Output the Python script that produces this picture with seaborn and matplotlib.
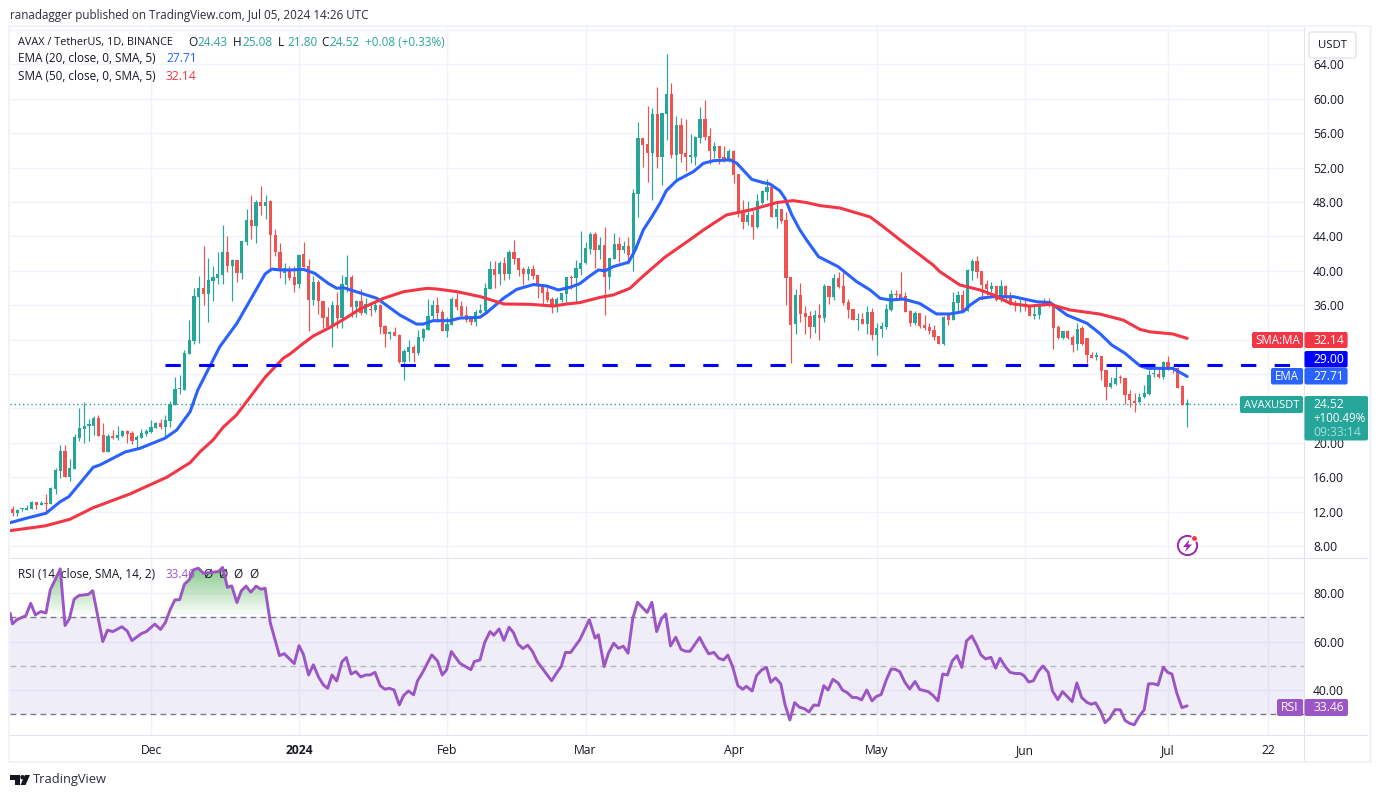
import numpy as np
import pandas as pd
import matplotlib
matplotlib.use("Agg")
import matplotlib.pyplot as plt
import seaborn as sns
from matplotlib.patches import Rectangle, FancyBboxPatch, Circle, Polygon
from matplotlib.path import Path
from matplotlib.transforms import Affine2D

# ---------- data ----------
first_day = -29  # days relative to 1 Dec 2023 (first candle: 2 Nov 2023)
open_ = [12.30,11.83,12.25,12.22,12.34,13.07,12.8,12.97,12.9,14.66,
16.76,19.04,16.02,16.95,20.55,21.6,22.0,21.95,22.88,20.9,
18.97,20.79,20.55,20.79,21.37,21.14,20.3,20.55,21.06,21.25,
21.72,22.3,21.83,22.53,24.4,26.2,26.14,30.32,31.83,36.95,
38.0,37.3,38.8,39.16,39.5,42.2,40.5,41.2,39.7,43.4,
45.9,45.2,48.0,47.5,48.1,44.2,42.2,39.8,40.1,39.3,
38.5,41.9,40.55,36.6,38.7,36.5,34.6,33.46,36.0,34.5,
38.35,39.28,35.8,36.5,35.1,35.55,35.4,36.0,33.6,32.65,
32.88,32.53,29.4,30.56,31.14,30.44,32.2,33.1,34.74,36.0,
35.2,33.0,33.7,36.7,35.9,34.86,34.6,34.04,35.1,35.3,
37.9,40.2,39.6,40.9,39.6,42.2,41.5,40.2,39.6,40.2,
39.5,38.46,37.5,36.7,35.8,36.6,37.3,39.28,39.16,40.2,
40.87,42.54,44.28,42.4,43.0,39.28,41.37,43.1,42.4,42.9,
41.84,48.93,55.44,54.75,53.7,58.24,53.2,58.24,60.56,53.47,
56.96,53.7,53.28,53.2,55.44,57.65,55.68,53.93,54.5,53.2,
52.77,53.93,51.26,46.84,45.68,46.5,45.1,47.88,49.16,49.75,
46.26,47.2,45.9,39.28,33.8,37.19,35.1,34.75,33.47,34.86,
34.5,38.23,36.95,39.16,38.23,36.37,35.56,34.28,34.4,33.8,
35.2,32.53,33.23,33.46,35.44,37.3,37.3,37.07,35.3,33.93,
35.09,33.7,33.46,33.1,32.4,31.5,34.86,34.28,36.25,37.19,
35.33,39.98,41.14,39.98,38.46,37.88,38.23,36.6,38.23,36.95,
36.25,35.9,35.95,35.9,34.74,34.86,35.9,36.49,36.0,33.46,
32.2,33.0,32.3,31.5,33.3,32.14,30.2,30.0,30.1,28.46,
26.44,26.83,27.57,27.5,25.63,24.7,24.74,25.36,25.67,27.95,
28.0,27.6,29.43,28.85,28.65,26.6,24.43]
close = [11.80,12.18,12.35,12.42,13.11,12.77,13.0,12.9,14.74,16.83,
19.04,16.02,17.07,20.67,21.72,21.95,22.07,22.88,20.79,18.97,
20.79,20.55,20.9,21.37,21.06,20.2,20.67,21.14,21.37,21.83,
22.3,21.83,22.65,24.5,26.25,26.25,30.44,31.95,37.07,38.0,
37.3,38.93,39.28,39.6,42.2,40.5,41.2,39.7,43.47,45.9,
45.2,48.0,47.5,48.0,44.2,42.2,40.2,40.3,39.2,38.38,
41.84,40.4,36.6,38.7,36.5,34.5,33.46,36.0,34.5,38.46,
39.28,35.8,36.5,35.1,36.1,35.47,36.0,33.46,32.65,32.88,
32.4,29.4,30.67,31.14,30.44,32.3,33.23,34.74,36.0,35.1,
33.0,33.8,36.7,35.8,34.74,34.3,34.04,35.2,35.44,38.0,
40.2,39.5,40.9,39.6,42.2,41.37,40.1,39.6,40.2,39.4,
38.46,37.4,36.6,35.8,36.7,37.4,39.28,39.16,40.3,40.9,
42.65,44.28,42.4,43.0,39.28,41.5,43.1,42.4,42.9,41.84,
49.05,55.44,54.63,53.7,58.24,53.2,58.35,60.56,53.47,56.96,
53.6,53.2,53.36,55.56,57.65,55.56,53.93,54.5,53.1,52.77,
53.93,51.14,46.84,45.68,46.5,45.1,48.12,49.28,49.75,46.26,
47.2,45.8,39.16,33.7,37.19,35.0,34.63,33.47,34.86,34.5,
38.23,36.95,39.16,38.1,36.25,35.44,34.28,34.4,33.8,35.2,
32.53,33.35,33.58,35.56,37.3,37.2,36.8,35.2,33.93,35.09,
33.58,33.35,33.0,32.3,31.5,34.63,34.28,36.37,37.19,35.33,
40.09,41.14,39.86,38.35,37.88,38.23,36.6,38.23,36.84,36.14,
35.9,35.98,35.9,34.74,34.98,36.02,36.49,35.95,33.35,32.2,
33.0,32.2,31.37,33.23,31.44,30.2,29.82,30.2,28.4,26.44,
26.9,27.5,27.5,25.55,24.97,24.66,25.36,25.75,27.88,28.03,
27.6,29.43,28.85,28.65,26.4,24.35,24.52]
high = [12.65,12.3,12.45,12.77,13.2,13.1,13.2,14.05,14.82,17.07,
19.74,19.74,18.1,21.06,24.04,24.7,22.76,23.1,23.2,22.3,
21.0,21.5,21.95,21.5,21.5,21.37,20.9,21.6,21.6,22.65,
22.4,22.76,23.23,24.86,27.65,27.88,30.79,34.28,38.0,39.4,
42.9,41.5,40.5,42.2,45.3,44.05,41.4,41.2,43.5,47.2,
48.8,48.2,49.86,48.8,48.2,44.86,43.27,40.9,40.5,40.55,
41.9,43.35,41.33,39.4,38.93,36.5,35.75,36.5,37.5,39.5,
41.84,39.5,36.6,37.9,36.8,36.37,36.5,36.1,33.7,33.0,
33.46,32.65,30.9,31.95,31.37,33.1,33.35,36.7,36.6,36.95,
35.4,34.6,36.95,37.4,36.5,35.9,34.6,35.4,36.1,38.6,
41.1,41.1,41.1,41.6,42.4,43.58,41.5,40.4,40.55,40.67,
39.5,38.46,38.2,36.95,36.95,37.4,39.28,39.5,41.25,44.6,
43.35,44.5,44.5,43.9,45.1,41.5,44.4,43.9,43.5,43.9,
49.5,57.3,55.44,59.17,58.93,61.4,58.35,65.2,61.84,58.0,
57.77,57.65,55.9,55.68,59.05,59.86,56.6,55.0,54.5,54.5,
54.16,54.05,51.26,48.24,48.12,47.0,48.93,49.4,50.68,50.1,
48.0,47.2,46.84,39.28,37.88,38.6,35.9,35.33,35.44,36.14,
38.46,38.23,39.63,39.86,39.86,36.7,35.56,35.1,35.1,35.9,
35.67,33.93,34.05,36.14,37.77,37.77,39.86,37.53,35.44,35.33,
35.09,34.86,33.93,33.7,32.4,34.74,34.86,37.53,37.65,37.77,
40.2,41.37,41.72,39.98,38.93,38.7,38.23,38.93,38.35,37.53,
36.6,36.68,36.6,36.0,36.14,36.25,36.84,36.84,36.25,33.7,
33.0,33.12,32.53,33.93,33.58,32.14,30.6,30.5,30.1,28.46,
27.6,28.93,27.88,27.5,26.1,25.75,25.75,26.7,28.46,29.04,
28.65,29.5,30.1,28.96,28.85,26.7,25.08]
low = [11.48,11.5,12.03,12.2,12.3,12.33,12.76,12.0,12.85,14.04,
15.94,16.02,15.6,16.95,20.24,20.0,20.2,20.9,20.79,18.97,
18.97,20.44,20.3,20.67,19.97,19.86,19.5,20.55,20.79,21.14,
21.72,21.6,20.6,21.83,24.4,25.67,26.14,30.32,31.5,31.6,
36.02,34.08,36.5,38.46,38.5,39.9,36.5,38.7,39.1,43.0,
43.7,43.27,46.5,46.0,40.2,41.7,39.2,38.46,38.9,37.53,
38.04,40.4,33.0,36.0,34.94,33.3,33.2,31.14,33.4,33.35,
37.57,34.6,34.6,34.9,35.0,34.8,35.2,32.65,31.14,32.07,
32.4,29.28,27.3,29.5,29.4,30.2,31.84,33.1,34.3,34.04,
33.0,32.3,33.7,35.4,34.7,34.04,33.7,33.6,35.1,35.2,
37.9,38.0,38.35,38.93,39.0,40.8,39.4,38.35,38.93,39.05,
36.8,35.9,36.37,35.1,35.2,36.37,36.1,37.9,36.25,39.5,
40.8,41.95,40.3,41.37,34.9,37.88,41.37,41.0,42.07,40.8,
40.0,46.26,52.07,50.3,48.24,52.0,50.0,55.2,53.1,50.44,
52.65,51.6,52.54,52.3,54.86,55.2,52.42,53.1,52.42,52.65,
52.65,50.2,46.26,44.86,45.3,43.7,45.0,47.77,48.24,46.26,
45.0,45.56,36.0,29.28,32.65,34.05,32.65,32.2,32.77,31.96,
34.04,36.14,36.6,38.0,36.0,34.5,34.28,33.1,33.8,32.65,
31.95,30.2,32.3,33.23,35.33,36.6,36.6,35.2,33.58,33.7,
33.35,33.1,32.65,31.95,31.5,31.37,33.7,34.28,35.05,35.33,
35.33,38.93,39.16,36.6,37.19,37.53,36.5,36.37,36.76,36.0,
35.33,35.2,35.3,34.74,34.4,34.4,35.9,35.83,30.9,32.07,
32.07,32.07,30.56,30.8,31.37,29.3,29.82,29.62,27.3,24.97,
26.37,26.7,27.0,24.5,24.2,23.6,24.6,25.24,25.55,27.6,
27.5,27.38,28.46,28.15,26.33,24.35,21.8]

ema_days = [-29.5,-25.3,-22,-19,-17.2,-12.1,-10.7,-5.4,-2.3,2.9,5.4,8.2,9.8,14.4,18,23.9,25.3,27,29.1,31.9,34.3,37.1,38.9,40.3,47.3,52.1,55.6,57,59.1,62.6,64.7,68.9,70.3,73.8,76.6,80.1,82.9,85.3,87.7,89.8,91.9,93.7,95.1,96.8,100,101.4,103.1,104.9,106.6,107.9,110.1,113.6,115.7,117.8,121.3,122.7,125.8,128.2,129.6,131.7,132.8,134.2,135.9,137.3,139.8,143.9,147.8,150.6,152.7,154.8,157.5,161,164.5,167.3,170.1,171.5,173.6,176.4,180.6,185.5,188.3,191.8,196,198.7,201.2,204,207.1,208.8,214,217]
ema_vals = [10.71,11.34,11.8,13.15,13.73,17.15,17.42,18.93,19.36,20.52,21.49,23.62,26.14,31.17,33.9,39.63,40.2,40.1,40.09,40.17,39.7,38.54,37.96,38.04,36.8,34.86,33.8,33.8,34.2,34.2,34.5,34.6,35.13,36.8,37.84,38.4,38.23,37.77,38.07,38.5,39.4,40.1,40.0,40.48,40.99,42.4,44.75,46.3,47.85,49.3,50.5,51.53,52.5,52.8,52.9,52.5,50.64,50.25,50.1,49.3,48.4,46.5,44.75,43.58,41.64,40.48,38.73,37.77,36.8,36.6,36.72,36.2,34.98,34.98,35.25,36.0,36.8,36.99,36.99,36.4,36.3,34.86,33.9,32.72,31.37,30.4,28.96,28.65,28.65,27.71]
sma_days = [-29.5,-22.2,-17,-12.1,-4.4,3.3,8.2,10.3,13,15.1,17.9,23.9,27.7,29.1,31.9,34,37.5,40.7,43.8,48.7,52.9,57.8,59.9,64.1,69,73.9,79.4,84.3,87.1,89.8,94,96.8,100.3,103.1,107.6,113.6,115.7,120.5,126.1,131,134.5,137.3,140.1,144.3,150.6,153.7,156.9,163.8,165.2,169.4,173.6,176.4,180,184,188.3,192.5,198.7,203.6,207.1,209.2,214,217]
sma_vals = [9.78,10.33,11.1,12.45,14.05,15.99,17.69,18.97,20.33,21.8,23.23,27.62,29.83,30.32,31.56,32.42,33.42,34.47,35.56,36.8,37.57,37.96,37.88,37.57,36.99,36.14,36.1,35.9,36.14,36.3,36.9,37.19,37.96,39.4,41.57,43.9,44.75,46.49,47.15,47.93,48.16,47.93,47.58,47.3,46.26,44.98,43.58,40.67,39.9,38.35,37.77,37.2,36.2,35.9,36.1,35.44,34.97,34.27,33.19,32.9,32.65,32.14]
rsi_days = [-29.5,-29,-28.1,-26.2,-25.2,-24.2,-23.1,-22,-21.1,-19,-18,-17.1,-16.1,-15.1,-13.1,-12.2,-11,-10.1,-9.1,-8,-6.1,-5,-4,-2,-1,0.8,2,3,4,5,6,7,8,8.9,9.9,11,14.1,15,16,16.9,18,18.9,19.9,20.9,22,23,23.9,25,26.9,27.9,30,31,31.9,33,34,35.1,36.1,37,37.9,38.9,40,40.9,41.9,42.9,43.9,45,45.9,46.9,48,49,49.9,50.9,52,52.9,53.9,55,55.8,56.9,58.8,60,61,61.9,62.9,64.7,67,67.7,68.9,69.9,71,71.8,72.9,73.9,75,75.9,76.9,77.9,78.9,79.9,80.9,83.9,84.9,85.9,86.8,87.9,88.9,89.8,91.8,93,93.7,94.9,95.8,96.9,97.9,98.9,99.9,100.9,101.9,103.9,104.9,105.9,106.9,107.8,108.8,109.9,111,111.9,112.9,114.9,115.9,116.8,117.9,118.9,119.9,120.8,121.8,122.9,123.9,124.7,125.9,126.8,127.9,128.9,129.8,130.8,131.9,132.8,133.8,134.8,135.8,136.8,137.8,138.8,139.8,140.9,141.8,142.8,143.9,144.8,145.8,146.9,147.8,148.8,149.9,151,151.9,152.9,154,155,155.8,156.8,157.9,158.9,160,161,162.8,163.8,164.8,165.8,166.8,167.8,168.8,169.8,170.8,171.9,172.9,173.8,174.8,175.9,176.9,177.8,178.9,179.9,181,182,182.8,183.8,184.8,185.8,186.8,187.9,188.8,189.9,190.9,191.9,192.9,193.9,194.9,196,196.9,197.8,198.9,199.8,200.8,201.9,203,204,204.9,205.9,206.9,208,208.9,209.9,210.9,212,212.9,213.8,214.8,215.9,217]
rsi_vals = [71.7,67.3,69,70.7,75.8,71,72.4,71.8,81.3,90,66.6,69.4,77.5,79,79.5,81,69,60,64.7,64.1,66.1,64.4,60.4,63.3,64.1,67.2,65,67.8,73.1,77.2,77.3,83.7,85.5,89.6,90.3,88.2,88.9,90.6,82.4,83,76.1,80.9,82.9,80.4,82.9,81.6,82,67.6,54.2,55,50.9,58.3,54.8,46.2,50.4,45.3,42.1,40.7,46.2,43.7,51.7,53.4,46.6,47.6,45.4,46.2,46.2,47.3,41.8,40.3,40.7,40,33.8,37.7,39.6,38,43.7,47.3,54.5,52,46.2,48.3,55.9,51,48.4,51.7,52.4,59.7,64.1,62.6,65.2,60.5,65.9,63.7,58.9,57.1,58.5,55.9,51.7,43.8,46.9,49.7,55.5,55.5,58.3,60.7,69,61.4,62.8,49.7,55.2,59.3,57.2,58.1,55.2,69.6,76.2,72,76.2,64.1,69.4,71.4,58.2,61.8,56.8,56,56,61.7,57.9,54.9,55.5,53.1,52.4,54.4,49.7,41.8,40.3,41.5,39.6,45.9,48.3,49.3,43.2,45,42.5,33.8,27.6,34.8,32.9,32.3,30.9,33.8,33.6,41.8,40,44.4,42.9,40,38.9,36.9,36.9,35.9,40,35.5,37.3,38.1,44.2,48.6,48.6,47.6,43.1,40.4,43.5,40.2,39.3,37.7,35.5,46.6,46.2,52,54.2,49.3,60.3,62.3,58.6,54.5,52.8,53.5,49,53.1,49.7,47.3,46.8,46.8,46,43.3,43.8,47.6,49.9,47.3,39.6,36,39.3,37.3,35.2,42.9,36.9,34.9,34.1,34.7,31.1,26.5,28.3,31.9,31.8,27.4,26.3,25.6,29,31.8,42.5,42.6,42,49.4,47.3,46.6,38.9,32.7,33.46]

support_level = 29.0
last_price = 24.52
price_ticks = [8,12,16,20,24,28,32,36,40,44,48,52,56,60,64,68]
hidden_price_ticks = [24,28,32,68]
rsi_ticks = [40,60,80]
rsi_levels = [70,50,30]
time_dates = ["2023-12-01","2024-01-01","2024-02-01","2024-03-01","2024-04-01","2024-05-01","2024-06-01","2024-07-01","2024-07-22"]
time_labels = ["Dec","2024","Feb","Mar","Apr","May","Jun","Jul","22"]

# ---------- styling ----------
sns.set_theme(style="white")
FONT = ["Open Sans", "DejaVu Sans"]
plt.rcParams["font.family"] = FONT
UP, DOWN = "#26a69a", "#ef5350"
BLUE, RED, PURPLE = "#2962ff", "#f23645", "#9c55c4"
INK, GRID, FRAME = "#131722", "#f0f3fa", "#e0e3eb"

W, H = 1382, 798
fig = plt.figure(figsize=(W/100, H/100), dpi=100, facecolor="white")
T = Affine2D().scale(1, -1).translate(0, H)   # pixel coordinates, top-left origin

def axes_px(l, t, r, b):
    return fig.add_axes([l/W, 1-b/H, (r-l)/W, (b-t)/H])

ax = axes_px(10, 27, 1304, 558)
ar = axes_px(10, 558, 1304, 736)
XMIN, XMAX = -29.53, 241.47
days = np.arange(first_day, first_day + len(open_))
assert len(open_) == len(close) == len(high) == len(low) == 247
assert len(ema_days) == len(ema_vals) and len(sma_days) == len(sma_vals) and len(rsi_days) == len(rsi_vals)
o, c, h, l = map(np.array, (open_, close, high, low))
colors = np.where(c >= o, UP, DOWN)
time_pos = [(pd.Timestamp(s) - pd.Timestamp("2023-12-01")).days for s in time_dates]

for a in (ax, ar):
    a.set_xlim(XMIN, XMAX)
    a.set_facecolor("white")
    for s in a.spines.values():
        s.set_visible(False)
    a.set_xticks(time_pos)
    a.grid(True, color=GRID, lw=1.0)
    a.set_axisbelow(True)
    a.yaxis.tick_right()
    a.tick_params(axis="both", length=0, labelcolor=INK, labelsize=8.7)
    a.set_xlabel(""); a.set_ylabel("")

# ---------- price pane ----------
ax.set_ylim(6.6, 68.35)
ax.set_yticks(price_ticks)
ax.set_yticklabels(["" if t in hidden_price_ticks else f"{t:.2f}" for t in price_ticks])
ax.tick_params(axis="y", pad=6.5)
ax.set_xticklabels([])
ax.vlines(days, l, h, colors=colors, lw=0.85, zorder=3)
ax.bar(days, np.maximum(np.abs(c-o), 0.14), bottom=np.minimum(o, c), width=0.68, color=colors, lw=0, zorder=3)
ax.axhline(last_price, color=UP, lw=1.0, ls=(0, (1, 2)), zorder=2, xmax=(1240-10)/1294)
sns.lineplot(data=pd.DataFrame({"d": ema_days, "v": ema_vals}), x="d", y="v", ax=ax, color=BLUE, lw=2.2,
             estimator=None, sort=False, zorder=4, solid_joinstyle="round")
sns.lineplot(data=pd.DataFrame({"d": sma_days, "v": sma_vals}), x="d", y="v", ax=ax, color=RED, lw=2.2,
             estimator=None, sort=False, zorder=4, solid_joinstyle="round")
ax.plot([2.93, XMAX], [support_level, support_level], color="#0000ff", lw=2.2, ls=(0, (5, 6)),
        dash_capstyle="butt", zorder=5)
ax.set_xlabel(""); ax.set_ylabel("")

# ---------- RSI pane ----------
ar.set_ylim(21.0, 94.5)
ar.set_yticks(rsi_ticks)
ar.set_yticklabels([f"{t:.2f}" for t in rsi_ticks])
ar.tick_params(axis="y", pad=6.5)
ar.set_xticklabels(time_labels)
ar.tick_params(axis="x", pad=6)
ar.get_xticklabels()[1].set_fontweight("bold")
ar.axhspan(rsi_levels[2], rsi_levels[0], color="#6a4fc0", alpha=0.10, lw=0, zorder=1)
for lev, col in zip(rsi_levels, ["#787b86", "#b6b8bf", "#787b86"]):
    ar.axhline(lev, color=col, lw=1.0, ls=(0, (4.2, 3)), zorder=1.5)
rx, rv = np.array(rsi_days), np.array(rsi_vals)
over = ar.fill_between(rx, rsi_levels[0], rv, where=rv >= rsi_levels[0], interpolate=True, alpha=0)
under = ar.fill_between(rx, rsi_levels[2], rv, where=rv <= rsi_levels[2], interpolate=True, alpha=0)
grad_o = np.zeros((64, 2, 4)); grad_o[..., :3] = (0.30, 0.69, 0.31)
grad_o[..., 3] = np.linspace(0.68, 0, 64)[:, None]
im = ar.imshow(grad_o, extent=(XMIN, XMAX, 70, 91), origin="upper", aspect="auto", zorder=1.6)
im.set_clip_path(Path.make_compound_path(*over.get_paths()), transform=ar.transData)
grad_u = np.zeros((16, 2, 4)); grad_u[..., :3] = (0.95, 0.35, 0.35)
grad_u[..., 3] = np.linspace(0, 0.14, 16)[:, None]
im2 = ar.imshow(grad_u, extent=(XMIN, XMAX, 24, 30), origin="upper", aspect="auto", zorder=1.6)
im2.set_clip_path(Path.make_compound_path(*under.get_paths()), transform=ar.transData)
ar.set_xlim(XMIN, XMAX); ar.set_ylim(21.0, 94.5)
sns.lineplot(data=pd.DataFrame({"d": rsi_days, "v": rsi_vals}), x="d", y="v", ax=ar, color=PURPLE, lw=2.1,
             estimator=None, sort=False, zorder=3, solid_joinstyle="round")
ar.set_xlabel(""); ar.set_ylabel("")

# ---------- frame ----------
def frect(x0, y0, x1, y1, color, z=1.0):
    fig.add_artist(Rectangle((x0, y0), x1-x0, y1-y0, transform=T, facecolor=color, edgecolor="none", zorder=z))

frect(8, 25, 1372, 27, GRID); frect(8, 760.5, 1372, 763, GRID)
frect(8, 25, 10, 763, GRID); frect(1368.5, 25, 1372, 763, GRID)
frect(1303.6, 27, 1304.8, 761, FRAME)
frect(10, 557.6, 1368, 559, FRAME)
frect(10, 734.8, 1368, 736, FRAME)

def label_box(x0, y0, x1, y1, color, z=2):
    fig.add_artist(FancyBboxPatch((x0+1.5, y0+1.5), x1-x0-3, y1-y0-3, boxstyle="round,pad=1.5,rounding_size=2",
                                  transform=T, facecolor=color, edgecolor="none", zorder=z))

def ftext(x, y, s, color=INK, size=8.7, ha="left", **kw):
    fig.text(x, y, s, transform=T, color=color, fontsize=size, ha=ha, va="center", zorder=3, **kw)

# price labels
for x0, x1, y0, y1, col, name, val in [
    (1252, 1303, 332, 348, RED, "SMA:MA", "32.14"),
    (1271, 1303, 368, 384.5, BLUE, "EMA", "27.71"),
]:
    label_box(x0, y0, x1, y1, col)
    label_box(1304.5, y0, 1347.6, y1, col)
    ftext((x0+x1)/2, (y0+y1)/2, name, "white", ha="center", size=8.3)
    ftext(1313, (y0+y1)/2, val, "white")
label_box(1304.5, 351, 1347.6, 367.5, "#0000ff")
ftext(1313, 359.5, "29.00", "white")
label_box(1240, 396, 1303, 413, UP)
ftext(1271.5, 405, "AVAXUSDT", "white", ha="center", size=8.0)
label_box(1304.5, 396, 1368, 440.5, UP)
ftext(1313, 405, "24.52", "white")
ftext(1313, 418.5, "+100.49%", "white", size=8.3)
ftext(1313, 433, "09:33:14", "#a8dcd6")
label_box(1277, 699, 1303, 716, PURPLE)
label_box(1304.5, 699, 1348, 716, PURPLE)
ftext(1290, 707.5, "RSI", "white", ha="center")
ftext(1313, 707.5, "33.46", "white")

# USDT button
fig.add_artist(FancyBboxPatch((1311, 34), 43, 22, boxstyle="round,pad=2,rounding_size=3", transform=T,
                              facecolor="white", edgecolor=FRAME, lw=1.0, zorder=2))
ftext(1332.5, 45, "USDT", ha="center", size=8.2)

# header and legends
ftext(10, 15, "ranadagger published on TradingView.com, Jul 05, 2024 14:26 UTC", "#2a2e39", size=8.35)
ftext(18, 42, "AVAX / TetherUS, 1D, BINANCE", size=7.85)
for x, s, col in [(188, "O", INK), (197, "24.43", UP), (233, "H", INK), (242, "25.08", UP), (278, "L", INK),
                  (287, "21.80", UP), (321, "C", INK), (329, "24.52", UP), (365, "+0.08 (+0.33%)", UP)]:
    ftext(x, 42, s, col, size=8.5)
ftext(18, 59, "EMA (20, close, 0, SMA, 5)", size=8.5)
ftext(166, 59, "27.71", BLUE)
ftext(18, 76, "SMA (50, close, 0, SMA, 5)", size=8.5)
ftext(165, 76, "32.14", RED)
for x, s, col in [(18, "RSI (14, close, SMA, 14, 2)", INK), (166, "33.46", PURPLE), (203, "Ø", INK),
                  (218, "Ø", INK), (233, "Ø", INK), (249, "Ø", INK)]:
    ar.text(x, 574, s, transform=T, color=col, fontsize=8.5, va="center", ha="left", zorder=2, clip_on=False)

# flash icon
fig.add_artist(Circle((1187.5, 545.5), 9.6, transform=T, facecolor="white", edgecolor="#9c27b0", lw=1.4, zorder=2))
fig.add_artist(Polygon([(1189.5, 539.5), (1183, 547), (1186.8, 547), (1185, 552), (1192, 544.5), (1188, 544.5)],
                       transform=T, facecolor="#9c27b0", edgecolor="none", zorder=3))
fig.add_artist(Circle((1194.5, 538.5), 3.0, transform=T, facecolor="#f23645", edgecolor="white", lw=0.8, zorder=4))

# TradingView logo
fig.add_artist(Polygon([(10, 775), (19.5, 775), (19.5, 785), (15, 785), (15, 779.5), (10, 779.5)], transform=T,
                       facecolor=INK, edgecolor="none", zorder=3))
fig.add_artist(Circle((22.5, 777.2), 2.2, transform=T, facecolor=INK, edgecolor="none", zorder=3))
fig.add_artist(Polygon([(25, 775), (30, 775), (25.5, 785), (20.5, 785)], transform=T,
                       facecolor=INK, edgecolor="none", zorder=3))
ftext(33, 780, "TradingView", "#2a2e39", size=9.3)

fig.savefig("out.png", dpi=100)
